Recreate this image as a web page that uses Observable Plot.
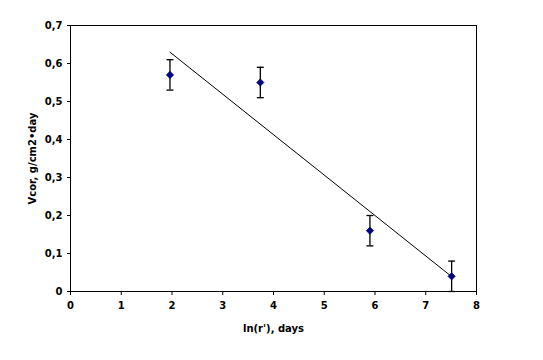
<!DOCTYPE html>
<html>
<head>
<meta charset="utf-8">
<script src="https://cdn.jsdelivr.net/npm/d3@7"></script>
<script src="https://cdn.jsdelivr.net/npm/@observablehq/plot@0.6"></script>
<style>
  html, body { margin: 0; padding: 0; background: #fff; }
  svg { display: block; }
</style>
</head>
<body>
<div id="chart"></div>
<script>
const xVals = [1.96, 3.74, 5.90, 7.51];
const yVals = [0.57, 0.55, 0.16, 0.04];
const errVals = [0.04, 0.04, 0.04, 0.04];
const xTicks = [0, 1, 2, 3, 4, 5, 6, 7, 8];
const yTicks = [0, 0.1, 0.2, 0.3, 0.4, 0.5, 0.6, 0.7];
const xLabel = "ln(r'), days";
const yLabel = "Vcor, g/cm2\u2022day";

const data = xVals.map((x, i) => ({x, y: yVals[i], lo: yVals[i] - errVals[i], hi: yVals[i] + errVals[i]}));

const capSymbol = {
  draw(ctx, size) {
    const r = Math.sqrt(size / Math.PI);
    ctx.moveTo(-r, 0);
    ctx.lineTo(r, 0);
  }
};
const diamondSymbol = {
  draw(ctx, size) {
    const r = Math.sqrt(size / Math.PI);
    ctx.moveTo(0, -r);
    ctx.lineTo(r, 0);
    ctx.lineTo(0, r);
    ctx.lineTo(-r, 0);
    ctx.closePath();
  }
};

const fmt = d => d === 0 ? "0" : d.toFixed(1).replace(".", ",");

const chart = Plot.plot({
  width: 543,
  height: 360,
  marginLeft: 70,
  marginRight: 67,
  marginTop: 25,
  marginBottom: 69,
  style: {fontFamily: "'DejaVu Sans', sans-serif", fontSize: "10px", fontWeight: "bold", color: "#000", background: "#fff"},
  x: {domain: [0, 8], ticks: xTicks, tickFormat: d => String(d), tickSize: 4, tickPadding: 6, label: xLabel, labelAnchor: "center", labelArrow: "none", labelOffset: 40},
  y: {domain: [0, 0.7], ticks: yTicks, tickFormat: fmt, tickSize: 3, tickPadding: 5, label: yLabel, labelAnchor: "center", labelArrow: "none", labelOffset: 42},
  marks: [
    Plot.frame({stroke: "#000", strokeWidth: 1}),
    Plot.linearRegressionY(data, {x: "x", y: "y", ci: 0, stroke: "#000", strokeWidth: 1}),
    Plot.ruleX(data, {x: "x", y1: "lo", y2: "hi", stroke: "#000", strokeWidth: 1.3}),
    Plot.dot(data, {x: "x", y: "hi", symbol: capSymbol, r: 3.5, stroke: "#000", strokeWidth: 1.3, fill: "none"}),
    Plot.dot(data, {x: "x", y: "lo", symbol: capSymbol, r: 3.5, stroke: "#000", strokeWidth: 1.3, fill: "none"}),
    Plot.dot(data, {x: "x", y: "y", symbol: diamondSymbol, r: 3.6, fill: "#000080", stroke: "#000080", strokeWidth: 0.8})
  ]
});
document.getElementById("chart").appendChild(chart);
</script>
</body>
</html>
